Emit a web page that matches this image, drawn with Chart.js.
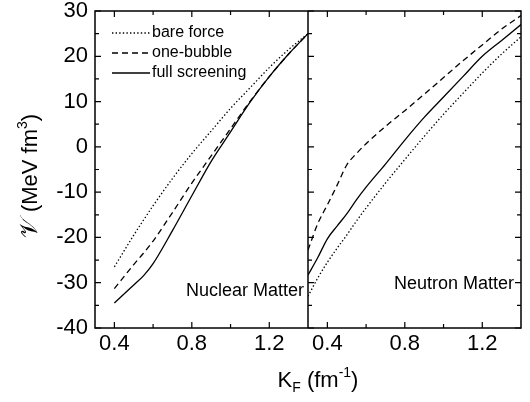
<!DOCTYPE html>
<html>
<head>
<meta charset="utf-8">
<script src="https://cdn.jsdelivr.net/npm/chart.js@4.4.1/dist/chart.umd.min.js"></script>
<style>
  html, body { margin: 0; padding: 0; background: #fff; }
</style>
</head>
<body>
<canvas id="chart" width="530" height="402"></canvas>
<script>
// nuclear matter panel (left)
const kfNuclear = [0.4, 0.5, 0.55, 0.6, 0.7, 0.8, 0.9, 1.0, 1.1, 1.2, 1.3, 1.4];
const bareNuclear = [-26.5, -19.5, -16.2, -13, -7, -1.5, 3.5, 8.5, 13, 17.5, 21.5, 25];
const bubbleNuclear = [-31.3, -26, -23.5, -20.8, -14.5, -8, -2, 4, 10, 15.5, 20.5, 25];
const fullNuclear = [-34.5, -30.5, -28.5, -25.8, -18.5, -10.8, -3.2, 3.3, 9.8, 15.5, 20.5, 25];

// neutron matter panel (right)
const kfNeutron = [0.3, 0.35, 0.4, 0.45, 0.5, 0.55, 0.6, 0.7, 0.8, 0.9, 1.0, 1.1, 1.2, 1.3, 1.4];
const bareNeutron = [-33, -29, -25.5, -22.4, -19.5, -16.4, -13.5, -8, -2.8, 2.3, 7.2, 11.8, 16.3, 20.5, 24.3];
const bubbleNeutron = [-22.8, -17, -12.8, -8.5, -4, -1.5, 0.7, 4.5, 8, 11.6, 15.3, 19, 22.5, 26, 29];
const fullNeutron = [-28.3, -24.5, -20.3, -17.5, -14.8, -11.7, -8.9, -3.8, 1.5, 6.5, 11, 15.5, 20, 23.5, 27];

const seriesNames = ['bare force', 'one-bubble', 'full screening'];
const panelNames = ['Nuclear Matter', 'Neutron Matter'];
const kfTicks = [0.4, 0.6, 0.8, 1.0, 1.2];
const kfLabels = [0.4, 0.8, 1.2];
const vTicks = [-40, -30, -20, -10, 0, 10, 20, 30];

const FONT = "'Liberation Sans', Arial, sans-serif";
const dashes = [[1.4, 2.2], [6, 4], []];

const toPoints = (xs, ys) => xs.map((x, i) => ({x: x, y: ys[i]}));

const makeSet = (label, xs, ys, idx, axis) => ({
    label: label,
    data: toPoints(xs, ys),
    xAxisID: axis,
    borderColor: '#000',
    borderWidth: 1.3,
    borderDash: dashes[idx],
    pointRadius: 0,
    fill: false,
    cubicInterpolationMode: 'monotone'
});

const datasets = [
    makeSet(seriesNames[0], kfNuclear, bareNuclear, 0, 'xNuc'),
    makeSet(seriesNames[1], kfNuclear, bubbleNuclear, 1, 'xNuc'),
    makeSet(seriesNames[2], kfNuclear, fullNuclear, 2, 'xNuc'),
    makeSet(seriesNames[0], kfNeutron, bareNeutron, 0, 'xNeu'),
    makeSet(seriesNames[1], kfNeutron, bubbleNeutron, 1, 'xNeu'),
    makeSet(seriesNames[2], kfNeutron, fullNeutron, 2, 'xNeu')
];

const isLabel = (v) => kfLabels.some(l => Math.abs(l - v) < 1e-6);

const xAxis = () => ({
    type: 'linear',
    position: 'bottom',
    stack: 'kf',
    stackWeight: 1,
    min: 0.3,
    max: 1.4,
    grid: {display: false, drawTicks: false},
    border: {display: false},
    ticks: {
        font: {family: FONT, size: 22},
        color: '#000',
        padding: 3,
        maxRotation: 0,
        autoSkip: false,
        callback: (v) => isLabel(v) ? v.toFixed(1) : ''
    },
    afterBuildTicks: (s) => { s.ticks = kfTicks.map(v => ({value: v})); },
    afterFit: (s) => { s.height = 74; s.paddingLeft = 0; s.paddingRight = 0; }
});

// rich text helper: parts drawn left to right
function drawRich(ctx, parts, x, y) {
    let w = 0;
    parts.forEach(p => { ctx.font = p.size + 'px ' + (p.family || FONT); w += ctx.measureText(p.t).width; });
    let cx = x - w / 2;
    parts.forEach(p => {
        ctx.font = p.size + 'px ' + (p.family || FONT);
        ctx.fillText(p.t, cx, y + (p.dy || 0));
        cx += ctx.measureText(p.t).width;
    });
}

const framePlugin = {
    id: 'frame',
    afterDraw(chart) {
        const {ctx, chartArea: a, scales} = chart;
        const y = scales.y, xl = scales.xNuc, xr = scales.xNeu;
        ctx.save();
        ctx.strokeStyle = '#000';
        ctx.lineWidth = 1.5;
        ctx.strokeRect(a.left, a.top, a.width, a.height);
        ctx.beginPath();
        ctx.moveTo(xr.left, a.top);
        ctx.lineTo(xr.left, a.bottom);
        ctx.stroke();

        // inward ticks
        ctx.lineWidth = 1.2;
        ctx.beginPath();
        for (let v = -40; v <= 30; v += 5) {
            const py = y.getPixelForValue(v);
            const len = v % 10 === 0 ? 6 : 4;
            ctx.moveTo(a.left, py); ctx.lineTo(a.left + len, py);
            ctx.moveTo(xr.left, py); ctx.lineTo(xr.left + len, py);
            ctx.moveTo(a.right, py); ctx.lineTo(a.right - len, py);
        }
        [xl, xr].forEach(sc => {
            kfTicks.forEach(v => {
                const px = sc.getPixelForValue(v);
                const len = isLabel(v) ? 6 : 4;
                ctx.moveTo(px, a.top); ctx.lineTo(px, a.top + len);
                ctx.moveTo(px, a.bottom); ctx.lineTo(px, a.bottom - len);
            });
        });
        ctx.stroke();

        // legend
        ctx.fillStyle = '#000';
        ctx.textBaseline = 'middle';
        ctx.textAlign = 'left';
        ctx.font = '16px ' + FONT;
        for (let i = 0; i < 3; i++) {
            const ds = chart.data.datasets[i];
            const ly = 33 + i * 20;
            ctx.beginPath();
            ctx.lineWidth = ds.borderWidth;
            ctx.setLineDash(ds.borderDash);
            ctx.moveTo(112, ly);
            ctx.lineTo(150, ly);
            ctx.stroke();
            ctx.setLineDash([]);
            ctx.fillText(ds.label, 152, ly);
        }

        // panel names
        ctx.textAlign = 'right';
        ctx.font = '18px ' + FONT;
        ctx.fillText(panelNames[0], xl.right - 4, 291);
        ctx.fillText(panelNames[1], xr.right - 7, 284);

        // axis titles
        ctx.textAlign = 'left';
        ctx.textBaseline = 'alphabetic';
        drawRich(ctx, [
            {t: 'K', size: 22},
            {t: 'F', size: 14, dy: 5},
            {t: ' (fm', size: 22},
            {t: '-1', size: 14, dy: -10},
            {t: ')', size: 22}
        ], 318, 387);

        ctx.translate(37, 176);
        ctx.rotate(-Math.PI / 2);
        drawRich(ctx, [
            {t: '\u{1D4B1}', size: 24, family: "'DejaVu Serif', serif"},
            {t: ' (MeV fm', size: 22},
            {t: '3', size: 14, dy: -10},
            {t: ')', size: 22}
        ], 0, 0);
        ctx.restore();
    }
};

new Chart(document.getElementById('chart'), {
    type: 'line',
    data: {datasets: datasets},
    options: {
        responsive: false,
        animation: false,
        layout: {padding: {left: 0, right: 9, top: 11, bottom: 0}},
        plugins: {legend: {display: false}, tooltip: {enabled: false}},
        scales: {
            xNuc: xAxis(),
            xNeu: xAxis(),
            y: {
                type: 'linear',
                position: 'left',
                min: -40,
                max: 30,
                grid: {display: false, drawTicks: false},
                border: {display: false},
                ticks: {
                    font: {family: FONT, size: 22},
                    color: '#000',
                    padding: 7
                },
                afterBuildTicks: (s) => { s.ticks = vTicks.map(v => ({value: v})); },
                afterFit: (s) => { s.width = 95; s.paddingTop = 0; s.paddingBottom = 0; }
            }
        }
    },
    plugins: [framePlugin]
});
</script>
</body>
</html>
